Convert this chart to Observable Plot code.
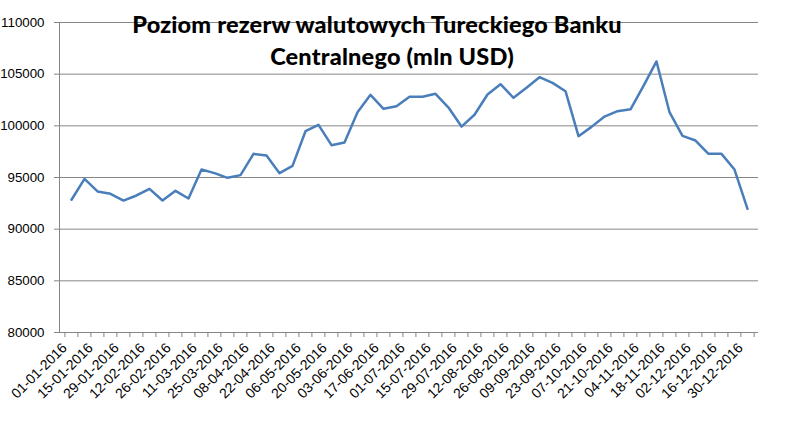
<!DOCTYPE html>
<html><head><meta charset="utf-8">
<script src="https://cdn.jsdelivr.net/npm/d3@7"></script>
<script src="https://cdn.jsdelivr.net/npm/@observablehq/plot@0.6"></script>
<style>
body{margin:0;background:#fff;}
#wrap{position:relative;width:786px;height:427px;}
.t{position:absolute;font-family:Lato,"Open Sans",sans-serif;font-weight:900;font-size:23.5px;letter-spacing:0.2px;white-space:nowrap;transform:translateX(-50%);color:#000;line-height:1;}
</style>
</head><body>
<div id="wrap"><div id="chart"></div>
<div class="t" style="left:377px;top:13px">Poziom rezerw walutowych Tureckiego Banku</div>
<div class="t" style="left:392px;top:45px">Centralnego (mln USD)</div>
</div>
<script>
const dates = ["01-01-2016","08-01-2016","15-01-2016","22-01-2016","29-01-2016","05-02-2016","12-02-2016","19-02-2016","26-02-2016","04-03-2016","11-03-2016","18-03-2016","25-03-2016","01-04-2016","08-04-2016","15-04-2016","22-04-2016","29-04-2016","06-05-2016","13-05-2016","20-05-2016","27-05-2016","03-06-2016","10-06-2016","17-06-2016","24-06-2016","01-07-2016","08-07-2016","15-07-2016","22-07-2016","29-07-2016","05-08-2016","12-08-2016","19-08-2016","26-08-2016","02-09-2016","09-09-2016","16-09-2016","23-09-2016","30-09-2016","07-10-2016","14-10-2016","21-10-2016","28-10-2016","04-11-2016","11-11-2016","18-11-2016","25-11-2016","02-12-2016","09-12-2016","16-12-2016","23-12-2016","30-12-2016"];
const reserves = [92850,94870,93650,93420,92770,93260,93900,92770,93710,92970,
  95770,95420,94970,95230,97290,97130,95420,96130,99480,100100,
  98130,98390,101320,103000,101650,101900,102810,102810,103100,101770,
  99930,101070,103030,104030,102710,103680,104710,104160,103350,99000,
  99900,100900,101420,101600,103870,106230,101320,99030,98580,97290,
  97290,95770,91970];
const tickLabels = ["01-01-2016","15-01-2016","29-01-2016","12-02-2016","26-02-2016","11-03-2016","25-03-2016","08-04-2016","22-04-2016","06-05-2016","20-05-2016","03-06-2016","17-06-2016","01-07-2016","15-07-2016","29-07-2016","12-08-2016","26-08-2016","09-09-2016","23-09-2016","07-10-2016","21-10-2016","04-11-2016","18-11-2016","02-12-2016","16-12-2016","30-12-2016"];
const yTicks = [80000,85000,90000,95000,100000,105000,110000];

const data = dates.map((d,i)=>({date:d, value:reserves[i]}));
const W=786,H=427,ML=59,MR=28,MT=22,MB=95;
const step=(W-ML-MR)/dates.length;
const gray="#868686";

const chart = Plot.plot({
  width:W, height:H, marginLeft:ML, marginRight:MR, marginTop:MT, marginBottom:MB,
  style:{fontFamily:"'Liberation Sans', Arial, sans-serif", fontSize:"13.3px", color:"#000", background:"#fff", overflow:"visible"},
  x:{type:"point", domain:dates, padding:0.5},
  y:{domain:[80000,110000]},
  marks:[
    Plot.gridY(yTicks,{stroke:gray, strokeOpacity:1}),
    Plot.frame({anchor:"left", stroke:gray}),
    Plot.ruleY([80000],{stroke:gray}),
    Plot.axisY({ticks:yTicks, tickSize:5, tickPadding:10, tickFormat:d3.format("d"), stroke:gray, fill:"#000", label:null}),
    Plot.axisX({ticks:dates, tickSize:5, tickFormat:()=>"", dx:-step/2, stroke:gray, label:null}),
    Plot.axisX({ticks:[dates[dates.length-1]], tickSize:5, tickFormat:()=>"", dx:step/2, stroke:gray, label:null}),
    Plot.axisX({ticks:tickLabels, tickSize:0, tickRotate:-45, tickPadding:13, dx:-7, fontSize:14, fill:"#000", label:null}),
    Plot.line(data,{x:"date", y:"value", stroke:"#4a7ebb", strokeWidth:2.5, strokeLinejoin:"round"})
  ]
});
document.getElementById("chart").appendChild(chart);
</script>
</body></html>
